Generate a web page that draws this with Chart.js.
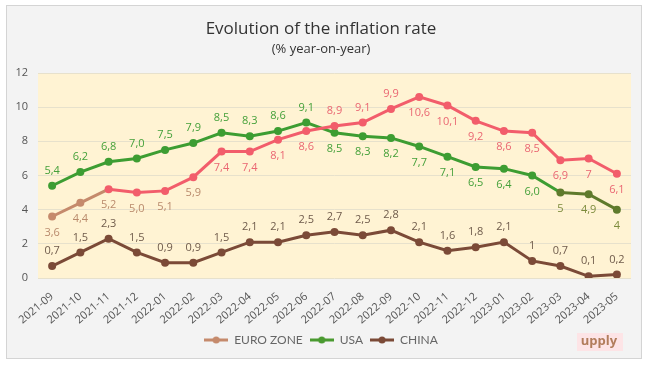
<!DOCTYPE html>
<html>
<head>
<meta charset="utf-8">
<script src="https://cdn.jsdelivr.net/npm/chart.js@4.4.0/dist/chart.umd.min.js"></script>
<style>
    body { margin: 0; background: #fff; }
    #frame {
        position: absolute; left: 6px; top: 5px; width: 634px; height: 352px;
        background: #f3f3f3; border: 1px solid #d4d4d4;
    }
</style>
</head>
<body>
<div id="frame"><canvas id="inflationChart"></canvas></div>
<script>
var months = ['2021-09', '2021-10', '2021-11', '2021-12', '2022-01', '2022-02', '2022-03', '2022-04', '2022-05', '2022-06', '2022-07',
    '2022-08', '2022-09', '2022-10', '2022-11', '2022-12', '2023-01', '2023-02', '2023-03', '2023-04', '2023-05'];
var euroZone = [3.6, 4.4, 5.2, 5.0, 5.1, 5.9, 7.4, 7.4, 8.1, 8.6, 8.9, 9.1, 9.9, 10.6, 10.1, 9.2, 8.6, 8.5, 6.9, 7, 6.1];
var usa = [5.4, 6.2, 6.8, 7.0, 7.5, 7.9, 8.5, 8.3, 8.6, 9.1, 8.5, 8.3, 8.2, 7.7, 7.1, 6.5, 6.4, 6.0, 5, 4.9, 4];
var china = [0.7, 1.5, 2.3, 1.5, 0.9, 0.9, 1.5, 2.1, 2.1, 2.5, 2.7, 2.5, 2.8, 2.1, 1.6, 1.8, 2.1, 1, 0.7, 0.1, 0.2];
// labels as printed on the chart (some without decimals)
var euroText = ['3,6', '4,4', '5,2', '5,0', '5,1', '5,9', '7,4', '7,4', '8,1', '8,6', '8,9', '9,1', '9,9', '10,6', '10,1', '9,2', '8,6', '8,5', '6,9', '7', '6,1'];
var usaText = ['5,4', '6,2', '6,8', '7,0', '7,5', '7,9', '8,5', '8,3', '8,6', '9,1', '8,5', '8,3', '8,2', '7,7', '7,1', '6,5', '6,4', '6,0', '5', '4,9', '4'];
var chinaText = ['0,7', '1,5', '2,3', '1,5', '0,9', '0,9', '1,5', '2,1', '2,1', '2,5', '2,7', '2,5', '2,8', '2,1', '1,6', '1,8', '2,1', '1', '0,7', '0,1', '0,2'];
var yTicks = [0, 2, 4, 6, 8, 10, 12];

var TAN = '#c58a6c', RED = '#f25d6b', GREEN = '#3d9d32', OLIVE = '#5f7a2c', BROWN = '#7b4a37';
var legendColors = [TAN, '#4a9a30', BROWN];

function legendIcon(color) {
    var c = document.createElement('canvas');
    c.width = 24; c.height = 10;
    var g = c.getContext('2d');
    g.strokeStyle = color; g.lineWidth = 3;
    g.beginPath(); g.moveTo(0, 5); g.lineTo(24, 5); g.stroke();
    g.fillStyle = color;
    g.beginPath(); g.arc(12, 5, 3.5, 0, Math.PI * 2); g.fill();
    return c;
}

var plotBg = {
    id: 'plotBg',
    beforeDraw: function(chart) {
        var a = chart.chartArea, ctx = chart.ctx;
        ctx.save();
        ctx.fillStyle = '#fff3d3';
        ctx.fillRect(a.left, a.top, a.right - a.left, a.bottom - a.top);
        ctx.restore();
    }
};

var pointLabels = {
    id: 'pointLabels',
    afterDatasetsDraw: function(chart) {
        var ctx = chart.ctx;
        var texts = [euroText, usaText, chinaText];
        ctx.save();
        ctx.font = '11px "Open Sans"';
        ctx.textAlign = 'center';
        ctx.textBaseline = 'middle';
        chart.data.datasets.forEach(function(ds, d) {
            var meta = chart.getDatasetMeta(d);
            meta.data.forEach(function(pt, i) {
                var above;
                if (d === 0) above = (i >= 10 && i <= 12);
                else if (d === 1) above = i <= 9;
                else above = true;
                var color;
                if (d === 0) color = i <= 5 ? '#b98a6c' : '#ea6672';
                else if (d === 1) color = i >= 18 ? '#7d8b3c' : '#45a03a';
                else color = '#6f5b4b';
                ctx.fillStyle = color;
                ctx.fillText(texts[d][i], pt.x, pt.y + (above ? -15 : 16));
            });
        });
        ctx.restore();
    }
};

var logo = {
    id: 'logo',
    afterDraw: function(chart) {
        var ctx = chart.ctx;
        ctx.save();
        ctx.fillStyle = '#fde4e6';
        ctx.fillRect(570, 327, 46, 18);
        ctx.font = 'bold 13px "Open Sans"';
        ctx.fillStyle = '#b27d5c';
        ctx.textAlign = 'center';
        ctx.textBaseline = 'middle';
        ctx.fillText('upply', 592, 335);
        ctx.restore();
    }
};

var ctx = document.getElementById('inflationChart').getContext('2d');
var inflationChart = new Chart(ctx, {
    type: 'line',
    data: {
        labels: months,
        datasets: [{
            label: 'EURO ZONE',
            data: euroZone,
            borderColor: RED,
            backgroundColor: RED,
            pointBackgroundColor: function(c) { return c.dataIndex < 2 ? TAN : RED; },
            pointBorderColor: function(c) { return c.dataIndex < 2 ? TAN : RED; },
            segment: { borderColor: function(c) { return c.p0DataIndex < 2 ? TAN : RED; } }
        }, {
            label: 'USA',
            data: usa,
            borderColor: GREEN,
            backgroundColor: GREEN,
            pointBackgroundColor: function(c) { return c.dataIndex >= 18 ? OLIVE : GREEN; },
            pointBorderColor: function(c) { return c.dataIndex >= 18 ? OLIVE : GREEN; },
            segment: { borderColor: function(c) { return c.p0DataIndex >= 18 ? OLIVE : GREEN; } }
        }, {
            label: 'CHINA',
            data: china,
            borderColor: BROWN,
            backgroundColor: BROWN,
            pointBackgroundColor: BROWN,
            pointBorderColor: BROWN
        }]
    },
    options: {
        responsive: true,
        maintainAspectRatio: false,
        animation: false,
        elements: {
            line: { borderWidth: 3, tension: 0 },
            point: { radius: 4, borderWidth: 0, pointStyle: 'circle' }
        },
        layout: { padding: { left: 4, right: 10, top: 4, bottom: 2 } },
        scales: {
            x: {
                offset: true,
                grid: { display: false },
                border: { display: false },
                afterFit: function(scale) { scale.height = 49; },
                ticks: {
                    color: '#555',
                    font: { family: 'Open Sans', size: 11 },
                    maxRotation: 40,
                    minRotation: 40,
                    autoSkip: false,
                    padding: 4
                }
            },
            y: {
                min: 0,
                max: 12,
                afterBuildTicks: function(scale) {
                    scale.ticks = yTicks.map(function(v) { return { value: v }; });
                },
                afterFit: function(scale) { scale.width = 27; },
                grid: { color: '#e7e1cc', drawTicks: false },
                border: { display: false },
                ticks: {
                    color: '#555',
                    font: { family: 'Open Sans', size: 11 },
                    padding: 10
                }
            }
        },
        plugins: {
            title: {
                display: true,
                text: 'Evolution of the inflation rate',
                color: '#333',
                font: { family: 'Open Sans', size: 17, weight: 'normal' },
                padding: { top: 9, bottom: 2 }
            },
            subtitle: {
                display: true,
                text: '(% year-on-year)',
                color: '#333',
                font: { family: 'Open Sans', size: 13 },
                padding: { bottom: 16 }
            },
            legend: {
                position: 'bottom',
                labels: {
                    usePointStyle: true,
                    pointStyleWidth: 24,
                    color: '#666',
                    font: { family: 'Lato', size: 12 },
                    boxHeight: 10,
                    padding: 7,
                    generateLabels: function(chart) {
                        var items = Chart.defaults.plugins.legend.labels.generateLabels(chart);
                        items.forEach(function(it, k) { it.pointStyle = legendIcon(legendColors[k]); });
                        return items;
                    }
                }
            },
            tooltip: { enabled: false }
        }
    },
    plugins: [plotBg, pointLabels, logo]
});
</script>
</body>
</html>
